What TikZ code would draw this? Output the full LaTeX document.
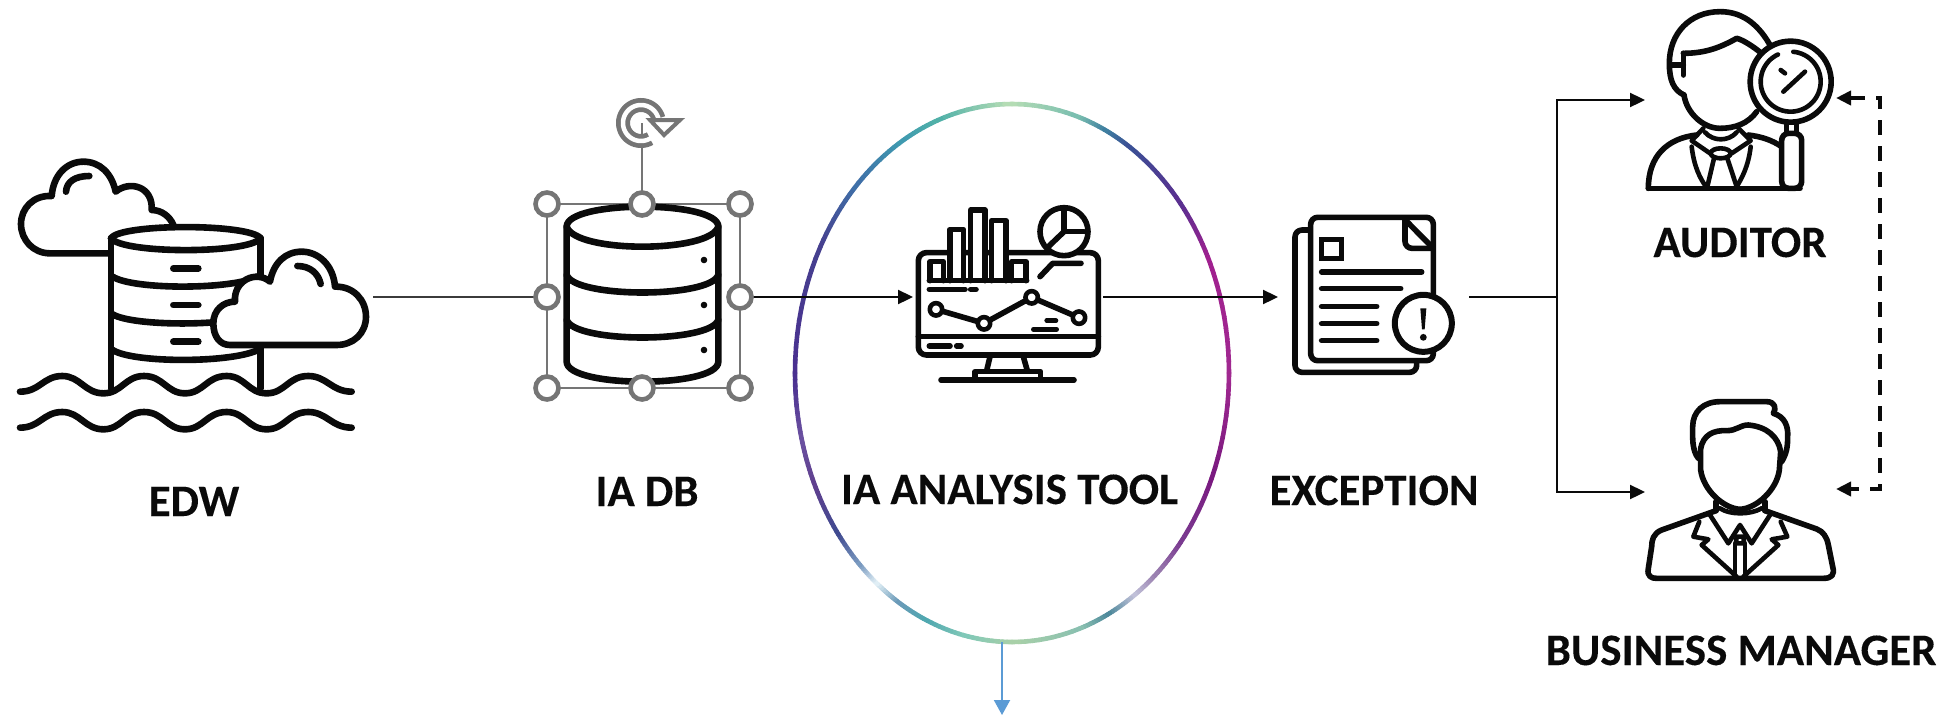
\documentclass[tikz,border=0pt]{standalone}
\usepackage{fontspec}
\setmainfont{Carlito}[BoldFeatures={FakeBold=0.15}]
\usetikzlibrary{arrows.meta}
\definecolor{ink}{HTML}{0A0A0A}
\definecolor{handlegray}{HTML}{757575}
\definecolor{flowblue}{HTML}{5B9BD5}
\definecolor{ga}{HTML}{B4DCB4}
\definecolor{gb}{HTML}{7BBFB0}
\definecolor{gc}{HTML}{3F7FA0}
\definecolor{gd}{HTML}{3B4F95}
\definecolor{ge}{HTML}{5A3090}
\definecolor{gf}{HTML}{A0208F}
\definecolor{gg}{HTML}{A02890}
\definecolor{gh}{HTML}{7A1A80}
\definecolor{gi}{HTML}{7A3A90}
\definecolor{gj}{HTML}{9A80B0}
\definecolor{gk}{HTML}{C0C0D8}
\definecolor{gl}{HTML}{4F8A9C}
\definecolor{gm}{HTML}{8AC0B0}
\definecolor{gn}{HTML}{A8D0A8}
\definecolor{go}{HTML}{80C8B8}
\definecolor{gp}{HTML}{50A8B0}
\definecolor{gq}{HTML}{6A9AB8}
\definecolor{gr}{HTML}{E0EEF5}
\definecolor{gs}{HTML}{7A9AC0}
\definecolor{gt}{HTML}{404A90}
\definecolor{gu}{HTML}{60408F}
\definecolor{gv}{HTML}{6A50A0}
\definecolor{gw}{HTML}{4A3090}
\definecolor{gx}{HTML}{46408F}
\definecolor{gy}{HTML}{3F70A8}
\definecolor{gz}{HTML}{3F9AB0}
\definecolor{gaa}{HTML}{50B0A8}
\tikzset{
  lbl/.style={anchor=base,inner sep=0pt,text=ink,font=\fontsize{45}{50}\selectfont\bfseries},
  icon/.style={draw=ink,line width=6.6pt,line cap=round,line join=round},
  thin icon/.style={icon,line width=5.6pt},
  fine icon/.style={icon,line width=4.6pt},
  flow/.style={draw=ink,line width=2.3pt,-{Triangle[length=15pt,width=14pt]}},
  plainflow/.style={draw=ink,line width=2.6pt},
  dashflow/.style={draw=ink,line width=3.8pt,dash pattern=on 15pt off 11pt,{Triangle[length=15pt,width=14pt]}-{Triangle[length=15pt,width=14pt]}},
  handle/.style={draw=handlegray,fill=white,line width=4.6pt},
  frameline/.style={draw=handlegray,line width=2.4pt},
  zoomA/.style={shift={(0,130)},x=.33333pt,y=-.33333pt},
  zoomB/.style={shift={(500,80)},x=.33333pt,y=-.33333pt},
  zoomC/.style={shift={(880,180)},x=.33333pt,y=-.33333pt},
  zoomD/.style={shift={(1270,190)},x=.33333pt,y=-.33333pt},
  zoomE/.style={shift={(1540,0)},x=.33333pt,y=-.33333pt},
  zoomF/.style={shift={(1540,380)},x=.33333pt,y=-.33333pt},
}
\newcommand{\gradseg}[4]{%
  \foreach \i in {0,...,9}{%
    \pgfmathsetmacro{\angA}{#1+(#2-#1)*\i/10}%
    \pgfmathsetmacro{\angB}{#1+(#2-#1)*(\i+1)/10}%
    \pgfmathtruncatemacro{\pct}{100*\i/9}%
    \draw[line width=4.6pt,line cap=round,color=#4!\pct!#3]
      ({1012+217*sin(\angA)},{373-269*cos(\angA)}) -- ({1012+217*sin(\angB)},{373-269*cos(\angB)});
  }%
}
\begin{document}
\begin{tikzpicture}[x=1pt,y=-1pt]
\useasboundingbox[fill=white] (0,0) rectangle (1944,715);

% connector end points
\coordinate (edwOut) at (373,297);
\coordinate (dbIn) at (547,297);
\coordinate (dbOut) at (740,297);
\coordinate (toolIn) at (913,297);
\coordinate (toolOut) at (1103,297);
\coordinate (excIn) at (1278,297);
\coordinate (excOut) at (1469,297);
\coordinate (split) at (1557,297);
\coordinate (audIn) at (1645,100);
\coordinate (mgrIn) at (1645,492);
\coordinate (audBack) at (1836,98);
\coordinate (mgrBack) at (1836,489);
\coordinate (toolBottom) at (1002,642);
\coordinate (toolDown) at (1002,715);

% gradient ellipse
\gradseg{0}{18}{ga}{gb}
\gradseg{18}{26}{gb}{gc}
\gradseg{26}{33}{gc}{gd}
\gradseg{33}{51}{gd}{ge}
\gradseg{51}{66}{ge}{gf}
\gradseg{66}{90}{gf}{gg}
\gradseg{90}{113}{gg}{gh}
\gradseg{113}{129}{gh}{gi}
\gradseg{129}{139}{gi}{gj}
\gradseg{139}{146}{gj}{gk}
\gradseg{146}{154}{gk}{gl}
\gradseg{154}{162}{gl}{gm}
\gradseg{162}{180}{gm}{gn}
\gradseg{180}{193}{gn}{go}
\gradseg{193}{204}{go}{gp}
\gradseg{204}{212}{gp}{gq}
\gradseg{212}{219}{gq}{gr}
\gradseg{219}{225}{gr}{gs}
\gradseg{225}{234}{gs}{gt}
\gradseg{234}{246}{gt}{gu}
\gradseg{246}{256}{gu}{gv}
\gradseg{256}{270}{gv}{gw}
\gradseg{270}{298}{gw}{gx}
\gradseg{298}{315}{gx}{gy}
\gradseg{315}{330}{gy}{gz}
\gradseg{330}{340}{gz}{gaa}
\gradseg{340}{360}{gaa}{ga}

% connectors
\draw[plainflow,line width=2.2pt,draw=ink!80] (edwOut) -- (dbIn);
\draw[flow] (dbOut) -- (toolIn);
\draw[flow] (toolOut) -- (excIn);
\draw[plainflow] (excOut) -- (split);
\draw[flow] (split) |- (audIn);
\draw[flow] (split) |- (mgrIn);
\draw[dashflow] (audBack) -| (1880,300) |- (mgrBack);
\draw[line width=2pt,-{Triangle[length=15pt,width=16pt]},color=flowblue] (toolBottom) -- (toolDown);

% EDW icon
\begin{scope}[zoomA]
\draw[icon] (325,370) -- (150,370) .. controls (100,370) and (63,330) .. (63,282) .. controls (63,235) and (100,195) .. (155,198) .. controls (160,135) and (200,95) .. (250,95) .. controls (300,95) and (335,130) .. (347,185) .. controls (390,150) and (460,170) .. (455,240) .. controls (485,240) and (510,260) .. (520,285);
\draw[icon] (198,185) .. controls (200,155) and (225,138) .. (268,138);
\draw[icon] (333,325) -- (333,775);
\draw[icon] (782,325) -- (782,775);
\draw[icon] (333,325) .. controls (360,280) and (750,280) .. (782,325);
\draw[icon] (333,325) .. controls (370,372) and (745,372) .. (782,325);
\draw[icon] (338,440) .. controls (400,480) and (700,480) .. (778,438);
\draw[icon] (338,553) .. controls (400,590) and (700,590) .. (778,550);
\draw[icon] (338,660) .. controls (400,700) and (700,700) .. (778,658);
\foreach \yy in {415,525,635}{\draw[icon] (520,\yy) -- (595,\yy);}
\draw[icon,fill=white] (690,645) -- (1010,645) .. controls (1060,645) and (1098,610) .. (1098,560) .. controls (1098,510) and (1060,468) .. (1005,470) .. controls (1000,405) and (955,365) .. (905,365) .. controls (855,365) and (820,400) .. (810,455) .. controls (770,420) and (700,450) .. (705,515) .. controls (670,515) and (640,540) .. (640,580) .. controls (640,620) and (660,645) .. (690,645) -- cycle;
\draw[icon] (892,408) .. controls (930,408) and (955,430) .. (962,462);
\foreach \yy in {0,108}{%
\draw[icon] (60,785+\yy) .. controls (120,785+\yy) and (130,738+\yy) .. (187,738+\yy) .. controls (240,738+\yy) and (255,790+\yy) .. (310,790+\yy) .. controls (365,790+\yy) and (375,738+\yy) .. (432,738+\yy) .. controls (490,738+\yy) and (500,790+\yy) .. (555,790+\yy) .. controls (610,790+\yy) and (620,738+\yy) .. (680,738+\yy) .. controls (735,738+\yy) and (745,790+\yy) .. (800,790+\yy) .. controls (855,790+\yy) and (865,738+\yy) .. (925,738+\yy) .. controls (980,738+\yy) and (995,785+\yy) .. (1055,785+\yy);}
\end{scope}

% IA DB icon with selection frame
\draw[frameline] (547,204) rectangle (740,388);
\draw[frameline] (642,123) -- (642,204);
\begin{scope}[zoomB]
\draw[icon,fill=white] (200,440) .. controls (200,360) and (655,360) .. (655,440) -- (655,845) .. controls (655,925) and (200,925) .. (200,845) -- cycle;
\draw[icon] (200,440) .. controls (225,520) and (630,520) .. (655,440);
\draw[icon] (200,585) .. controls (225,655) and (630,655) .. (655,585);
\draw[icon] (200,720) .. controls (225,790) and (630,790) .. (655,720);
\foreach \yy in {540,675,810}{\fill[ink] (612,\yy) circle (3.3pt);}
\end{scope}
\foreach \hx/\hy in {547/204,642/204,740/204,547/297,740/297,547/388,642/388,740/388}{
  \draw[handle] (\hx,\hy) circle (11.5pt);
}
\draw[handlegray,line width=14pt,domain=15:300,samples=50] plot ({641+18*cos(\x)},{123-18*sin(\x)});
\draw[white,line width=4.5pt,domain=12:303,samples=50] plot ({641+18*cos(\x)},{123-18*sin(\x)});
\draw[handlegray,fill=white,line width=4pt,line join=miter] (650,120) -- (680,120) -- (664,135) -- cycle;

% Monitor icon
\begin{scope}[zoomC]
\draw[thin icon,fill=white,rounded corners=8pt] (115,218) rectangle (655,525);
\draw[thin icon] (115,470) -- (655,470);
\foreach \bl/\br/\bt in {150/190/245,210/250/148,272/315/90,335/378/122,395/438/245}{
  \draw[thin icon,fill=white] (\bl,302) -- (\bl,\bt) -- (\br,\bt) -- (\br,302);
}
\draw[thin icon] (148,302) -- (440,302);
\draw[thin icon,fill=white] (552,155) circle (24pt);
\draw[thin icon] (552,90) -- (552,155) -- (612,155);
\draw[thin icon] (552,155) -- (505,200);
\draw[thin icon] (480,290) -- (518,250) -- (603,250);
\draw[thin icon] (148,328) -- (255,328);
\draw[thin icon] (272,328) -- (288,328);
\draw[thin icon] (168,388) -- (312,430) -- (455,352) -- (597,413);
\foreach \cx/\cy in {168/388,312/430,455/352,597/413}{\draw[fine icon,fill=white] (\cx,\cy) circle (6.2pt);}
\draw[fine icon] (500,422) -- (528,422);
\draw[fine icon] (460,448) -- (530,448);
\draw[thin icon] (148,498) -- (210,498);
\draw[thin icon] (230,498) -- (243,498);
\draw[thin icon] (330,530) -- (320,572);
\draw[thin icon] (430,530) -- (442,572);
\draw[thin icon] (285,600) -- (285,575) -- (482,575) -- (482,600);
\draw[thin icon] (183,600) -- (582,600);
\end{scope}

% Exception icon
\begin{scope}[zoomD]
\draw[thin icon,rounded corners=7pt] (118,120) -- (75,120) -- (75,547) -- (440,547) -- (440,515);
\draw[thin icon,rounded corners=7pt,fill=white] (122,82) rectangle (490,512);
\draw[thin icon,rounded corners=7pt] (405,90) -- (405,175) -- (485,175);
\draw[thin icon] (408,92) -- (485,170);
\draw[thin icon,line join=miter] (155,148) rectangle (215,205);
\draw[thin icon] (155,246) -- (455,246);
\draw[thin icon] (155,296) -- (392,296);
\draw[thin icon] (155,349) -- (320,349);
\draw[thin icon] (155,401) -- (320,401);
\draw[thin icon] (155,452) -- (320,452);
\draw[icon,line width=6pt,fill=white] (460,400) circle (28.5pt);
\fill[ink] (451,355) -- (469,355) -- (464,418) -- (456,418) -- cycle;
\fill[ink] (460,442) circle (3.4pt);
\end{scope}

% Auditor icon
\begin{scope}[zoomE]
\draw[thin icon] (690,135) .. controls (650,65) and (600,35) .. (540,35) .. controls (450,35) and (388,100) .. (388,190) .. controls (388,240) and (400,270) .. (432,285);
\draw[thin icon] (430,160) .. controls (500,160) and (545,140) .. (590,115) .. controls (610,120) and (640,140) .. (662,158);
\draw[thin icon] (430,160) -- (430,225);
\draw[thin icon] (395,195) -- (430,195);
\draw[thin icon] (432,285) .. controls (440,340) and (490,385) .. (540,385) .. controls (585,385) and (625,370) .. (650,335);
\draw[thin icon] (325,565) .. controls (325,470) and (380,415) .. (470,405);
\draw[thin icon] (625,405) .. controls (665,410) and (695,420) .. (725,440);
\draw[thin icon,rounded corners=5pt] (325,565) -- (780,565);
\draw[fine icon] (490,385) -- (455,422) -- (510,460);
\draw[fine icon] (595,385) -- (632,422) -- (575,460);
\draw[fine icon] (495,397) .. controls (520,425) and (565,425) .. (590,397);
\draw[fine icon] (542,460) ellipse (10pt and 5pt);
\draw[fine icon] (522,475) -- (502,560);
\draw[fine icon] (562,475) -- (590,560);
\draw[fine icon] (455,440) .. controls (462,500) and (480,535) .. (498,560);
\draw[fine icon] (632,440) .. controls (625,500) and (605,535) .. (590,560);
\draw[thin icon,fill=white,rounded corners=7pt] (725,400) -- (725,565) -- (785,565) -- (785,400) -- cycle;
\draw[fine icon] (740,370) -- (740,400);
\draw[fine icon] (770,370) -- (770,400);
\draw[thin icon,fill=white] (752,245) circle (40.5pt);
\draw[fine icon,domain=-245:85,samples=60] plot ({752+90*cos(\x)},{245-90*sin(\x)});
\draw[fine icon] (722,210) -- (735,220);
\draw[fine icon] (730,275) -- (795,215);
\end{scope}

% Manager icon
\begin{scope}[zoomF]
\draw[thin icon] (475,235) .. controls (455,210) and (458,170) .. (458,140) .. controls (458,95) and (490,65) .. (540,65) -- (680,65) .. controls (705,65) and (710,85) .. (700,100) .. controls (735,110) and (745,140) .. (743,170) .. controls (743,200) and (740,220) .. (725,245);
\draw[thin icon] (482,205) .. controls (490,165) and (520,150) .. (560,152) .. controls (590,152) and (600,135) .. (625,135) .. controls (680,140) and (715,170) .. (722,215);
\draw[thin icon] (482,205) -- (482,270) .. controls (490,330) and (550,385) .. (600,388) .. controls (650,385) and (710,330) .. (718,270) -- (722,215);
\draw[thin icon] (528,365) -- (528,392);
\draw[thin icon] (675,365) -- (675,392);
\draw[fine icon] (540,385) .. controls (570,405) and (630,405) .. (665,385);
\draw[thin icon] (528,392) -- (365,450) .. controls (340,460) and (335,480) .. (335,500) -- (325,565) .. controls (320,590) and (335,595) .. (350,595) -- (850,595) .. controls (875,595) and (885,585) .. (878,560) -- (865,495) .. controls (860,470) and (850,455) .. (830,447) -- (675,392);
\draw[fine icon] (510,405) -- (565,490) -- (600,435) -- (635,490) -- (690,405);
\draw[fine icon] (478,425) -- (460,470) -- (505,478) -- (485,495) -- (590,590);
\draw[fine icon] (722,425) -- (742,470) -- (695,478) -- (715,495) -- (610,590);
\draw[fine icon] (590,470) -- (610,470) -- (612,490) -- (588,490) -- cycle;
\draw[fine icon] (585,490) -- (585,585);
\draw[fine icon] (615,490) -- (615,585);
\end{scope}

% labels
\node[lbl] (edw) at (194,516) {EDW};
\node[lbl] (iadb) at (647,506) {IA DB};
\node[lbl] (tool) at (1009.5,504) {IA ANALYSIS TOOL};
\node[lbl] (exc) at (1374,505) {EXCEPTION};
\node[lbl] (aud) at (1740,257) {AUDITOR};
\node[lbl] (mgr) at (1741,665) {BUSINESS MANAGER};
\end{tikzpicture}
\end{document}
